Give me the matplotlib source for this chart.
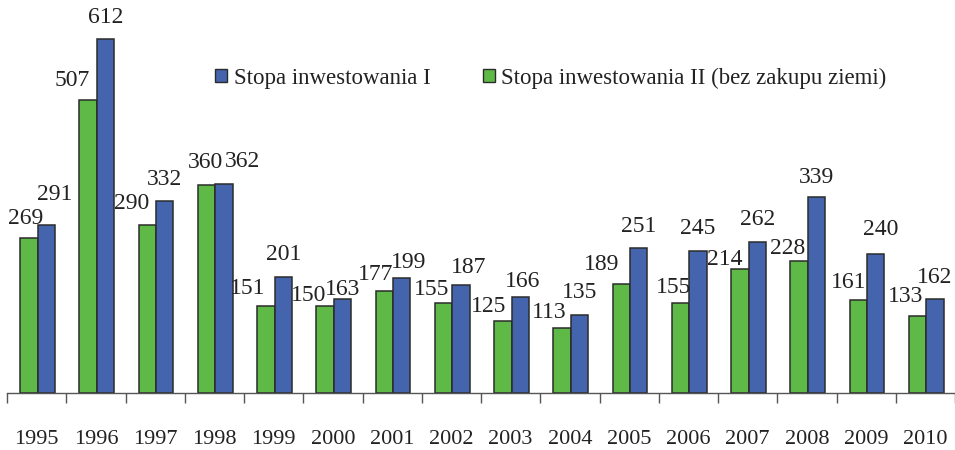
import matplotlib
matplotlib.use("Agg")
import matplotlib.pyplot as plt
import numpy as np
from matplotlib.patches import Patch

years = ["1995", "1996", "1997", "1998", "1999", "2000", "2001", "2002",
         "2003", "2004", "2005", "2006", "2007", "2008", "2009", "2010"]
stopa_I = [291, 612, 332, 362, 201, 163, 199, 187, 166, 135, 251, 245, 262, 339, 240, 162]
stopa_II = [269, 507, 290, 360, 151, 150, 177, 155, 125, 113, 189, 155, 214, 228, 161, 133]
label_I = "Stopa inwestowania I"
label_II = "Stopa inwestowania II (bez zakupu ziemi)"

# label placement nudges (pixels) as in the original layout
dx_II = [-3, -16, -16, -1, -18, -16, -9, -12, -14, -13, -20, -7, -15, -11, -10, -12]
dy_II = [14, 14, 16, 17, 12, 5, 11, 8, 9, 10, 14, 10, 4, 7, 12, 14]
dx_I = [8, 0, 0, 18, 0, 0, 7, 8, 2, 0, 0, 0, 0, 0, 5, 0]
dy_I = [25, 16, 16, 17, 17, 4, 10, 12, 10, 17, 16, 17, 17, 14, 19, 16]

green = "#5EB946"
blue = "#4464AE"
edge = "#2b2b2b"

plt.rcParams['font.family'] = ['Liberation Serif', 'DejaVu Serif']

W, H = 955, 450
fig = plt.figure(figsize=(W / 100, H / 100), dpi=100)
ax = fig.add_axes([7 / W, 57 / H, 948 / W, 393 / H])

x = np.arange(len(years))
bw = 0.295
xs_II = x - bw / 2 + 0.015
xs_I = x + bw / 2 + 0.015
ax.bar(xs_II, stopa_II, width=bw, color=green, edgecolor=edge, linewidth=1.1, zorder=2)
ax.bar(xs_I, stopa_I, width=bw, color=blue, edgecolor=edge, linewidth=1.1, zorder=2)

fs_val = 17
fs_year = 16
k = 0.72  # px -> pt at 100 dpi
for i in range(len(years)):
    ax.annotate(str(stopa_II[i]), (xs_II[i], stopa_II[i]), xytext=(dx_II[i] * k, dy_II[i] * k),
                textcoords="offset points", ha="center", va="baseline", fontsize=fs_val, color="#222222")
    ax.annotate(str(stopa_I[i]), (xs_I[i], stopa_I[i]), xytext=(dx_I[i] * k, dy_I[i] * k),
                textcoords="offset points", ha="center", va="baseline", fontsize=fs_val, color="#222222")

ax.set_xlim(-0.5, len(years) - 0.5)
ax.set_ylim(0, 680)
for s in ["top", "right", "left"]:
    ax.spines[s].set_visible(False)
ax.spines["bottom"].set_color("#555555")
ax.spines["bottom"].set_linewidth(1.0)
ax.set_yticks([])
ax.set_xticks(x)
ax.set_xticklabels(years, fontsize=fs_year, color="#222222")
ax.tick_params(axis="x", which="major", length=0, pad=27)
ax.set_xticks(np.arange(len(years) + 1) - 0.5, minor=True)
ax.tick_params(axis="x", which="minor", length=7, width=1.0, color="#555555", direction="out")

handles = [Patch(facecolor=blue, edgecolor=edge, linewidth=1.0),
           Patch(facecolor=green, edgecolor=edge, linewidth=1.0)]
fig.legend(handles, [label_I, label_II], loc="center", bbox_to_anchor=(551 / W, 1 - 78 / H),
           ncol=2, frameon=False, fontsize=16.5, handlelength=0.5, handleheight=0.5,
           handletextpad=0.3, columnspacing=2.3, labelcolor="#222222")

fig.savefig("out.png", dpi=100)
